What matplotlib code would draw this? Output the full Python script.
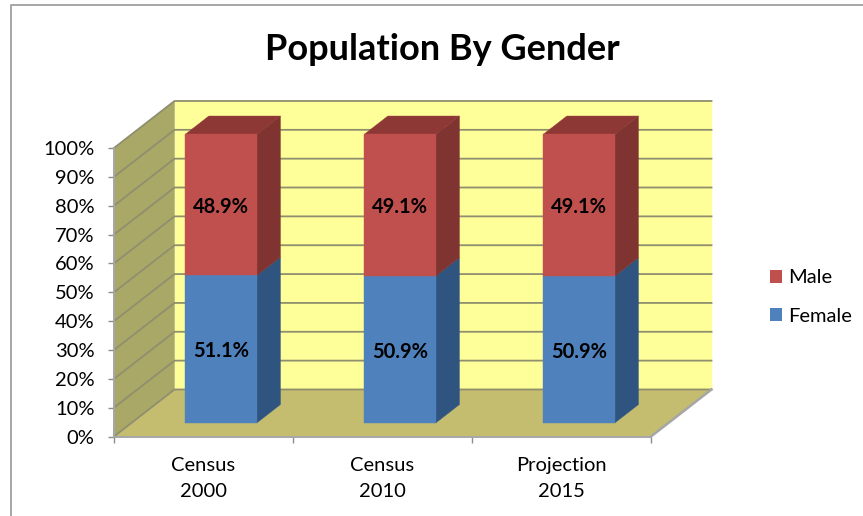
import matplotlib
matplotlib.use("Agg")
import matplotlib.pyplot as plt
from matplotlib.lines import Line2D
from matplotlib.patches import Polygon

plt.rcParams['font.family'] = ['Lato', 'DejaVu Sans']

# data
categories = ['Census\n2000', 'Census\n2010', 'Projection\n2015']
female = [51.1, 50.9, 50.9]
male = [48.9, 49.1, 49.1]
y_ticks = [0, 10, 20, 30, 40, 50, 60, 70, 80, 90, 100]
title = 'Population By Gender'

W, H = 863, 516
# oblique depth of the 3d box, in data units
DEPTH_X = 0.338
DEPTH_Y = 16.3
BAR_W = 0.40
Z_FRONT = 0.29
Z_BACK = 0.68

GRID = '#8f8f70'


def proj(x, y, z):
    return (x + z * DEPTH_X, y + z * DEPTH_Y)


def face(ax, pts, color, zorder):
    poly = Polygon([proj(*p) for p in pts], closed=True, facecolor=color,
                   edgecolor=color, linewidth=0.3, clip_on=False, zorder=zorder)
    ax.add_patch(poly)
    return poly


def bar_label(ax, x, y, value):
    ax.annotate('%.1f%%' % value, xy=proj(x, y, Z_FRONT), xytext=(0, -1.5), textcoords='offset points',
                ha='center', va='center', fontsize=14.5, fontweight='bold', color='black', zorder=5)


fig = plt.figure(figsize=(W / 100, H / 100), dpi=100)
ax = fig.add_axes([114 / W, 1 - 436.5 / H, (651 - 114) / W, (436.5 - 148) / H])
ax.patch.set_visible(False)
n = len(categories)
ax.set_xlim(0, n)
ax.set_ylim(0, 100)

# walls and floor
face(ax, [(0, 0, 1), (n, 0, 1), (n, 100, 1), (0, 100, 1)], '#FFFF99', 1)
face(ax, [(0, 0, 0), (0, 100, 0), (0, 100, 1), (0, 0, 1)], '#A9A866', 1)
face(ax, [(0, 0, 0), (n, 0, 0), (n, 0, 1), (0, 0, 1)], '#C4BD6F', 1)

# gridlines on side wall and back wall
for t in y_ticks:
    xs, ys = zip(proj(0, t, 0), proj(0, t, 1), proj(n, t, 1))
    ax.plot(xs, ys, color=GRID, lw=1.3, clip_on=False, zorder=2)
xs, ys = zip(proj(n, 0, 0), proj(n, 0, 1))
ax.plot(xs, ys, color='#a6a6a6', lw=1.8, clip_on=False, zorder=2)

# bars
for i in range(n):
    x0 = i + 0.5 - BAR_W / 2
    x1 = i + 0.5 + BAR_W / 2
    f = female[i]
    t = female[i] + male[i]
    face(ax, [(x1, 0, Z_FRONT), (x1, f, Z_FRONT), (x1, f, Z_BACK), (x1, 0, Z_BACK)], '#2F5480', 3)
    face(ax, [(x1, f, Z_FRONT), (x1, t, Z_FRONT), (x1, t, Z_BACK), (x1, f, Z_BACK)], '#7F3431', 3)
    face(ax, [(x0, t, Z_FRONT), (x1, t, Z_FRONT), (x1, t, Z_BACK), (x0, t, Z_BACK)], '#8E3836', 3)
    face(ax, [(x0, 0, Z_FRONT), (x1, 0, Z_FRONT), (x1, f, Z_FRONT), (x0, f, Z_FRONT)], '#4F81BD', 4)
    face(ax, [(x0, f, Z_FRONT), (x1, f, Z_FRONT), (x1, t, Z_FRONT), (x0, t, Z_FRONT)], '#C0504D', 4)
    bar_label(ax, i + 0.5, f / 2, f)
    bar_label(ax, i + 0.5, f + male[i] / 2, male[i])

# axes
for s in ['top', 'right']:
    ax.spines[s].set_visible(False)
for s in ['left', 'bottom']:
    ax.spines[s].set_color('#a6a6a6')
    ax.spines[s].set_linewidth(1.4)
    ax.spines[s].set_zorder(6)
ax.set_yticks(y_ticks)
ax.set_yticklabels(['%d%%' % t for t in y_ticks])
ax.set_xticks(range(n + 1))
ax.set_xticklabels([])
ax.set_xticks([i + 0.5 for i in range(n)], minor=True)
ax.set_xticklabels(categories, minor=True, linespacing=1.65)
ax.tick_params(axis='y', length=4.5, width=1, color='#8c8c8c', labelsize=14.5, pad=9.5, labelcolor='black')
ax.tick_params(axis='x', which='major', length=4.5, width=1, color='#8c8c8c')
ax.tick_params(axis='x', which='minor', length=0, labelsize=14.5, pad=15, labelcolor='black')

fig.text(442 / W, 1 - 50 / H, title, ha='center', va='center', fontsize=26, fontweight='bold', color='black')

# legend
handles = [Polygon([(0, 0)], facecolor='#C0504D', label='Male'),
           Polygon([(0, 0)], facecolor='#4F81BD', label='Female')]
fig.legend(handles=handles, loc='center left', bbox_to_anchor=(770 / W, 1 - 297 / H), frameon=False,
           fontsize=14.5, handlelength=0.6, handleheight=0.6, handletextpad=0.3, labelspacing=1.05,
           borderpad=0, borderaxespad=0)

# chart border
fig.add_artist(Line2D([10.5 / W, 10.5 / W, 1], [0, 1 - 5 / H, 1 - 5 / H], color='#a6a6a6', lw=1.4))

fig.savefig('out.png', dpi=100)
